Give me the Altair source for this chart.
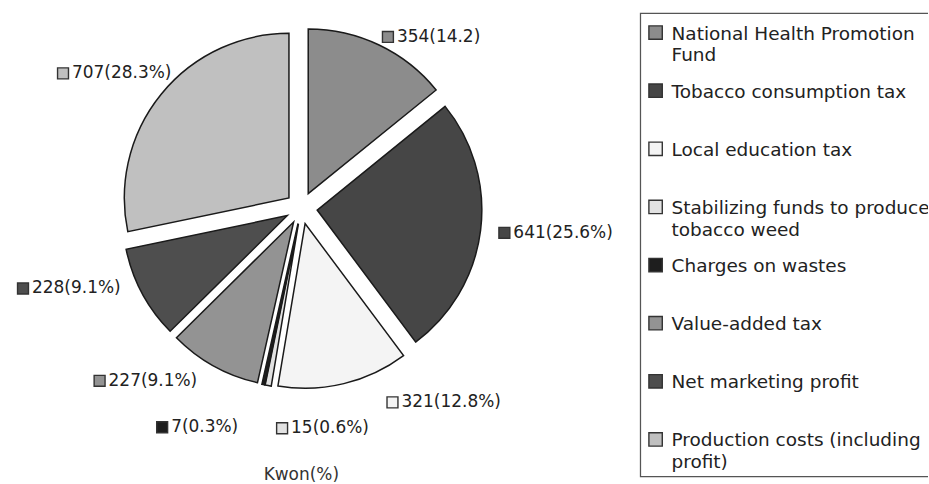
import altair as alt
import pandas as pd

# ---------------- data ----------------
categories = [
    "National Health Promotion Fund",
    "Tobacco consumption tax",
    "Local education tax",
    "Stabilizing funds to produce tobacco weed",
    "Charges on wastes",
    "Value-added tax",
    "Net marketing profit",
    "Production costs (including profit)",
]
legend_labels = [
    "National Health Promotion\nFund",
    "Tobacco consumption tax",
    "Local education tax",
    "Stabilizing funds to produce\ntobacco weed",
    "Charges on wastes",
    "Value-added tax",
    "Net marketing profit",
    "Production costs (including\nprofit)",
]
values = [354, 641, 321, 15, 7, 227, 228, 707]
slice_labels = ["354(14.2)", "641(25.6%)", "321(12.8%)", "15(0.6%)",
                "7(0.3%)", "227(9.1%)", "228(9.1%)", "707(28.3%)"]
colors = ["#8c8c8c", "#464646", "#f4f4f4", "#e2e2e2",
          "#1e1e1e", "#939393", "#4e4e4e", "#c0c0c0"]

df = pd.DataFrame({
    "cat": categories,
    "order": list(range(len(categories))),
    "value": values,
    "lab": slice_labels,
    "legend": legend_labels,
})

# ---------------- layout settings ----------------
FONT = "DejaVu Sans"
PIE_W, PIE_H = 602, 392
RADIUS = 165
EXPLODE = 16
# label placement tweaks (angle nudge in degrees, label radius in px)
nudge_deg = [0, 0, -10.3, -4.3, 3.4, 2, 4.2, 6.8]
label_r = [190, 200, 213, 222, 228, 202, 198, 188]

color_scale = alt.Scale(domain=categories, range=colors)
xs = alt.Scale(domain=[-PIE_W / 2, PIE_W / 2], nice=False, zero=False)
ys = alt.Scale(domain=[-PIE_H / 2, PIE_H / 2], nice=False, zero=False)

base = (
    alt.Chart(df)
    .transform_window(cum="sum(value)", sort=[alt.SortField("order")], frame=[None, 0])
    .transform_joinaggregate(total="sum(value)")
    .transform_calculate(t0="2*PI*(datum.cum-datum.value)/datum.total")
    .transform_calculate(t1="2*PI*datum.cum/datum.total")
    .transform_calculate(mid="(datum.t0+datum.t1)/2")
    .transform_calculate(ex=f"{EXPLODE}*sin(datum.mid)")
    .transform_calculate(ey=f"{EXPLODE}*cos(datum.mid)")
    .transform_calculate(la=f"datum.mid + PI/180*{nudge_deg}[datum.order]")
    .transform_calculate(lr=f"{label_r}[datum.order]")
    .transform_calculate(ax="datum.lr*sin(datum.la)")
    .transform_calculate(ay="datum.lr*cos(datum.la)")
    .transform_calculate(w="length(datum.lab)*9.9")
    .transform_calculate(tx="sin(datum.la) > -0.15 ? datum.ax + 14 : datum.ax - datum.w")
    .transform_calculate(sx="datum.tx - 9")
)

slices = base.mark_arc(radius=RADIUS, stroke="#1a1a1a", strokeWidth=1.5).encode(
    x=alt.X("ex:Q", scale=xs, axis=None),
    y=alt.Y("ey:Q", scale=ys, axis=None),
    theta=alt.Theta("t0:Q", scale=None, stack=False),
    theta2=alt.Theta2("t1:Q"),
    color=alt.Color("cat:N", scale=color_scale, legend=None),
)

label_boxes = base.mark_square(size=120, stroke="#333333", strokeWidth=1.4, opacity=1).encode(
    x=alt.X("sx:Q", scale=xs, axis=None),
    y=alt.Y("ay:Q", scale=ys, axis=None),
    color=alt.Color("cat:N", scale=color_scale, legend=None),
)

label_text = base.mark_text(align="left", baseline="middle", font=FONT,
                            fontSize=17, color="#222222").encode(
    x=alt.X("tx:Q", scale=xs, axis=None),
    y=alt.Y("ay:Q", scale=ys, axis=None),
    text="lab:N",
)

pie = alt.layer(slices, label_boxes, label_text).properties(
    width=PIE_W,
    height=PIE_H,
    title=alt.TitleParams("Kwon(%)", orient="bottom", font=FONT, fontSize=17,
                          fontWeight="normal", color="#333333", offset=31),
)

# ---------------- legend panel ----------------
LEG_W, LEG_H = 289, 466
leg_y_scale = alt.Scale(domain=categories, paddingInner=0, paddingOuter=0)
leg_base = alt.Chart(df)

leg_frame = alt.Chart(df.head(1)).mark_rect(
    fill="transparent", stroke="#555555", strokeWidth=1.5, clip=True
).encode(
    x=alt.value(0.75), x2=alt.value(LEG_W + 40),
    y=alt.value(0.75), y2=alt.value(LEG_H - 0.75),
)

leg_boxes = leg_base.mark_square(size=180, stroke="#333333", strokeWidth=1.4,
                                 opacity=1, yOffset=-9).encode(
    x=alt.value(16),
    y=alt.Y("cat:N", sort=categories, scale=leg_y_scale, axis=None),
    color=alt.Color("cat:N", scale=color_scale, legend=None),
)
leg_text = leg_base.mark_text(align="left", baseline="top", lineBreak="\n", lineHeight=22,
                              font=FONT, fontSize=18.5, color="#222222", clip=True,
                              dy=-17).encode(
    x=alt.value(32),
    y=alt.Y("cat:N", sort=categories, scale=leg_y_scale, axis=None),
    text="legend:N",
)
legend_panel = alt.layer(leg_frame, leg_boxes, leg_text).properties(
    width=LEG_W, height=LEG_H,
)

chart = alt.hconcat(
    pie, legend_panel, spacing=38, bounds="flush",
    padding={"left": 0, "top": 11, "right": 0, "bottom": 0},
).configure_view(stroke="transparent")

chart.save("out.html", embed_options={"renderer": "svg", "actions": False})
